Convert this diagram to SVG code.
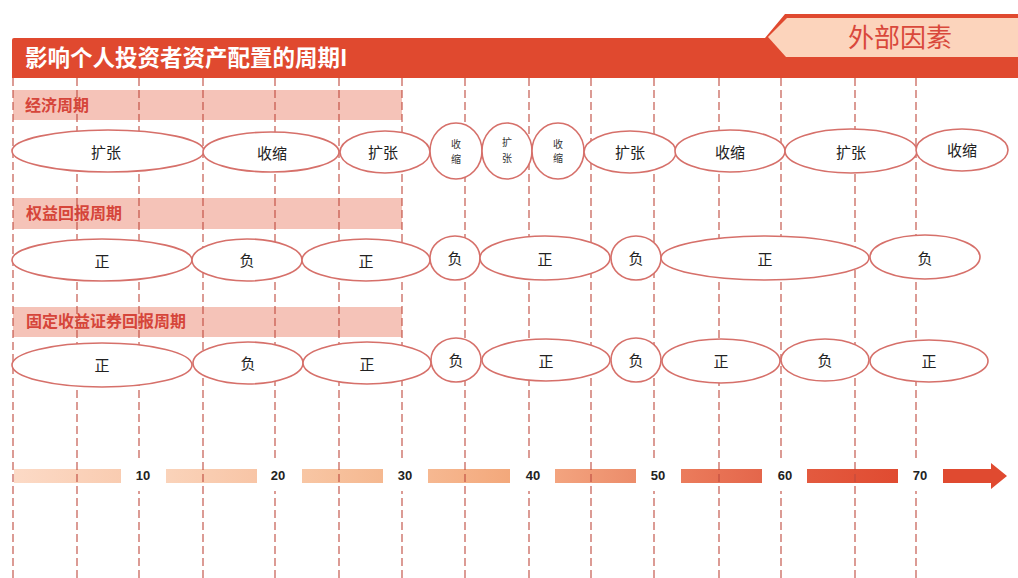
<svg xmlns="http://www.w3.org/2000/svg" width="1018" height="578" viewBox="0 0 1018 578">
<defs>
<style>
.grid line{stroke:#bf4a3e;stroke-width:1.1;stroke-dasharray:8 4}
.lbl{fill:#f5c3b8}
.lbltxt{font-family:"Noto Sans CJK SC","Noto Sans",sans-serif;font-size:16px;font-weight:bold;fill:#d6453a}
ellipse{fill:#ffffff;stroke:#d6706a;stroke-width:1.6}
.t{font-family:"Noto Sans CJK SC","Noto Sans",sans-serif;font-size:15px;fill:#222;text-anchor:middle;dominant-baseline:central}
.ts{font-family:"Noto Sans CJK SC","Noto Sans",sans-serif;font-size:10px;fill:#333;text-anchor:middle;dominant-baseline:central}
.num{font-family:"Liberation Sans",Arial,sans-serif;font-size:13px;font-weight:bold;fill:#222;text-anchor:middle;dominant-baseline:central}
</style>
<linearGradient id="g1"><stop offset="0" stop-color="#fcdac6"/><stop offset="1" stop-color="#f9ccb1"/></linearGradient>
<linearGradient id="g2"><stop offset="0" stop-color="#fad3ba"/><stop offset="1" stop-color="#f8c5a6"/></linearGradient>
<linearGradient id="g3"><stop offset="0" stop-color="#f8c6a4"/><stop offset="1" stop-color="#f5b890"/></linearGradient>
<linearGradient id="g4"><stop offset="0" stop-color="#f6b891"/><stop offset="1" stop-color="#f3a87b"/></linearGradient>
<linearGradient id="g5"><stop offset="0" stop-color="#f3a47f"/><stop offset="1" stop-color="#ec8c6a"/></linearGradient>
<linearGradient id="g6"><stop offset="0" stop-color="#eb7c5c"/><stop offset="1" stop-color="#e4664b"/></linearGradient>
<linearGradient id="g7"><stop offset="0" stop-color="#e35a3f"/><stop offset="1" stop-color="#e04b31"/></linearGradient>
</defs>
<rect width="1018" height="578" fill="#ffffff"/>

<g id="header">
<path d="M12,40 Q12,38 14,38 L765,38 L785,14 L1018,14 L1018,78 L12,78 Z" fill="#e0492f"/>
<polygon points="787,18 1018,18 1018,57 786,57 768,37" fill="#fcd4bc"/>
<text x="25" y="66" font-family="'Noto Sans CJK SC','Noto Sans',sans-serif" font-size="22.5" font-weight="bold" fill="#ffffff">影响个人投资者资产配置的周期I</text>
<text x="900" y="47" text-anchor="middle" font-family="'Noto Sans CJK SC','Noto Sans',sans-serif" font-size="26" fill="#d9483b">外部因素</text>
</g>

<g id="section-labels">
<g id="label-economic"><rect class="lbl" x="13" y="90" width="389" height="30"/><text class="lbltxt" x="25" y="111">经济周期</text></g>
<g id="label-equity"><rect class="lbl" x="13" y="198" width="389" height="31"/><text class="lbltxt" x="26" y="219">权益回报周期</text></g>
<g id="label-fixed"><rect class="lbl" x="13" y="307" width="389" height="30"/><text class="lbltxt" x="26" y="327">固定收益证券回报周期</text></g>
</g>

<g id="timeline-bars">
<rect x="14" y="469" width="107" height="14" fill="url(#g1)"/>
<rect x="166" y="469" width="91" height="14" fill="url(#g2)"/>
<rect x="302" y="469" width="81" height="14" fill="url(#g3)"/>
<rect x="428" y="469" width="82" height="14" fill="url(#g4)"/>
<rect x="555" y="469" width="81" height="14" fill="url(#g5)"/>
<rect x="681" y="469" width="81" height="14" fill="url(#g6)"/>
<rect x="807" y="469" width="91" height="14" fill="url(#g7)"/>
<polygon points="943,469 991,469 991,463 1007,476 991,489 991,483 943,483" fill="#e04a30"/>
</g>

<g id="connectors" class="grid">
<line x1="13" y1="78" x2="13" y2="578"/>
<line x1="77" y1="78" x2="77" y2="578"/>
<line x1="139" y1="78" x2="139" y2="578"/>
<line x1="203" y1="78" x2="203" y2="578"/>
<line x1="275" y1="78" x2="275" y2="578"/>
<line x1="339" y1="78" x2="339" y2="578"/>
<line x1="402" y1="78" x2="402" y2="578"/>
<line x1="465" y1="78" x2="465" y2="578"/>
<line x1="529" y1="78" x2="529" y2="578"/>
<line x1="591" y1="78" x2="591" y2="578"/>
<line x1="654" y1="78" x2="654" y2="578"/>
<line x1="719" y1="78" x2="719" y2="578"/>
<line x1="781" y1="78" x2="781" y2="578"/>
<line x1="855" y1="78" x2="855" y2="578"/>
<line x1="916" y1="78" x2="916" y2="578"/>
</g>

<g id="economic-cycle">
<g id="e1"><ellipse cx="108" cy="151" rx="96" ry="21"/><text class="t" x="106" y="151">扩张</text></g>
<g id="e2"><ellipse cx="271" cy="152" rx="68" ry="20"/><text class="t" x="272" y="152">收缩</text></g>
<g id="e3"><ellipse cx="385" cy="152" rx="45" ry="21"/><text class="t" x="383" y="151">扩张</text></g>
<g id="e4"><ellipse cx="456" cy="151" rx="26" ry="28"/><text class="ts" x="456" y="143">收</text><text class="ts" x="456" y="158">缩</text></g>
<g id="e5"><ellipse cx="507" cy="151" rx="25" ry="28"/><text class="ts" x="507" y="141">扩</text><text class="ts" x="507" y="157">张</text></g>
<g id="e6"><ellipse cx="558" cy="151" rx="26" ry="28"/><text class="ts" x="558" y="143">收</text><text class="ts" x="558" y="157">缩</text></g>
<g id="e7"><ellipse cx="630" cy="152" rx="46" ry="21"/><text class="t" x="630" y="151">扩张</text></g>
<g id="e8"><ellipse cx="730" cy="151" rx="55" ry="21"/><text class="t" x="730" y="151">收缩</text></g>
<g id="e9"><ellipse cx="851" cy="151" rx="66" ry="22"/><text class="t" x="851" y="151">扩张</text></g>
<g id="e10"><ellipse cx="962" cy="150" rx="46" ry="21"/><text class="t" x="962" y="149">收缩</text></g>
</g>

<g id="equity-cycle">
<g id="q1"><ellipse cx="102" cy="260" rx="90" ry="21"/><text class="t" x="102" y="260">正</text></g>
<g id="q2"><ellipse cx="247" cy="260" rx="55" ry="21"/><text class="t" x="247" y="259">负</text></g>
<g id="q3"><ellipse cx="366" cy="260" rx="64" ry="21"/><text class="t" x="366" y="260">正</text></g>
<g id="q4"><ellipse cx="455" cy="258" rx="25" ry="22"/><text class="t" x="455" y="257">负</text></g>
<g id="q5"><ellipse cx="545" cy="258" rx="65" ry="22"/><text class="t" x="545" y="258">正</text></g>
<g id="q6"><ellipse cx="636" cy="258" rx="25" ry="22"/><text class="t" x="636" y="257">负</text></g>
<g id="q7"><ellipse cx="765" cy="258" rx="104" ry="22"/><text class="t" x="765" y="258">正</text></g>
<g id="q8"><ellipse cx="925" cy="257" rx="55" ry="22"/><text class="t" x="925" y="257">负</text></g>
</g>

<g id="fixed-income-cycle">
<g id="f1"><ellipse cx="102" cy="365" rx="90" ry="22"/><text class="t" x="102" y="364">正</text></g>
<g id="f2"><ellipse cx="248" cy="363" rx="55" ry="21"/><text class="t" x="248" y="362">负</text></g>
<g id="f3"><ellipse cx="367" cy="363" rx="64" ry="21"/><text class="t" x="367" y="363">正</text></g>
<g id="f4"><ellipse cx="456" cy="360" rx="25" ry="22"/><text class="t" x="456" y="359">负</text></g>
<g id="f5"><ellipse cx="546" cy="360" rx="64" ry="21"/><text class="t" x="546" y="360">正</text></g>
<g id="f6"><ellipse cx="636" cy="360" rx="25" ry="22"/><text class="t" x="636" y="359">负</text></g>
<g id="f7"><ellipse cx="721" cy="361" rx="59" ry="22"/><text class="t" x="721" y="360">正</text></g>
<g id="f8"><ellipse cx="825" cy="360" rx="44" ry="21"/><text class="t" x="825" y="359">负</text></g>
<g id="f9"><ellipse cx="929" cy="361" rx="59" ry="21"/><text class="t" x="929" y="360">正</text></g>
</g>

<g id="timeline-labels">
<g id="n10"><rect x="131" y="458" width="24" height="33" fill="#fff"/><text class="num" x="143" y="475">10</text></g>
<g id="n20"><rect x="266" y="458" width="24" height="33" fill="#fff"/><text class="num" x="278" y="475">20</text></g>
<g id="n30"><rect x="393" y="458" width="24" height="33" fill="#fff"/><text class="num" x="405" y="475">30</text></g>
<g id="n40"><rect x="521" y="458" width="24" height="33" fill="#fff"/><text class="num" x="533" y="475">40</text></g>
<g id="n50"><rect x="646" y="458" width="24" height="33" fill="#fff"/><text class="num" x="658" y="475">50</text></g>
<g id="n60"><rect x="773" y="458" width="24" height="33" fill="#fff"/><text class="num" x="785" y="475">60</text></g>
<g id="n70"><rect x="908" y="458" width="24" height="33" fill="#fff"/><text class="num" x="920" y="475">70</text></g>
</g>
</svg>
